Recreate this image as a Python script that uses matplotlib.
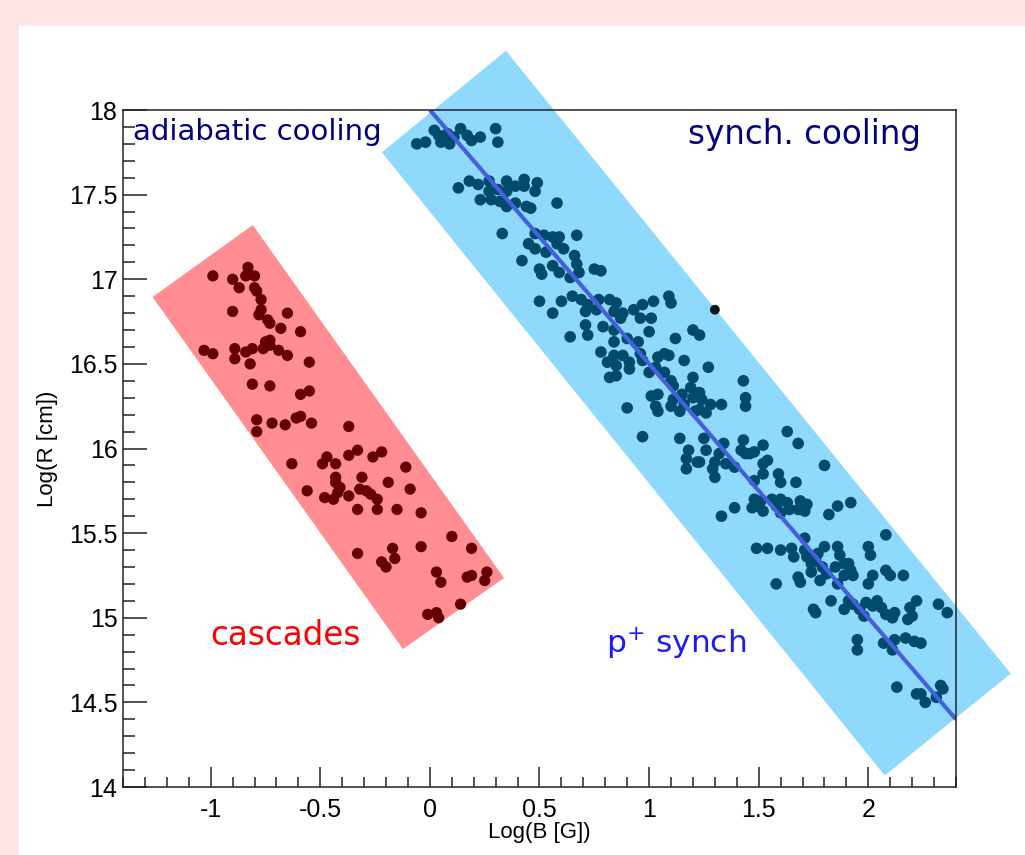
import matplotlib
matplotlib.use("Agg")
import matplotlib.pyplot as plt
from matplotlib.patches import Polygon, Rectangle
from matplotlib.ticker import MultipleLocator, FuncFormatter

plt.rcParams['axes.unicode_minus'] = False

# ---------------- data ----------------
cascade_points = [
    (-0.99, 17.02), (-0.90, 17.00), (-0.87, 16.95), (-0.83, 17.07), (-0.84, 17.02), (-0.80, 17.02),
    (-0.80, 16.95), (-0.79, 16.93), (-0.77, 16.88), (-0.90, 16.81), (-0.78, 16.79), (-0.77, 16.82),
    (-0.65, 16.80), (-0.74, 16.76), (-0.73, 16.74), (-0.68, 16.71), (-0.59, 16.69), (-1.03, 16.58),
    (-0.99, 16.56), (-0.89, 16.59), (-0.89, 16.53), (-0.84, 16.57), (-0.81, 16.59), (-0.82, 16.50),
    (-0.76, 16.59), (-0.75, 16.63), (-0.73, 16.64), (-0.73, 16.61), (-0.69, 16.58), (-0.65, 16.55),
    (-0.55, 16.51), (-0.81, 16.38), (-0.73, 16.37), (-0.59, 16.32), (-0.55, 16.34), (-0.79, 16.17),
    (-0.79, 16.10), (-0.72, 16.15), (-0.66, 16.14), (-0.61, 16.18), (-0.59, 16.19), (-0.54, 16.15),
    (-0.63, 15.91), (-0.47, 15.95), (-0.49, 15.91), (-0.43, 15.91), (-0.43, 15.80), (-0.41, 15.77),
    (-0.56, 15.75), (-0.48, 15.71), (-0.44, 15.70), (-0.37, 16.13), (-0.37, 15.96), (-0.33, 15.99),
    (-0.26, 15.95), (-0.22, 15.98), (-0.11, 15.89), (-0.43, 15.83), (-0.31, 15.83), (-0.19, 15.80),
    (-0.42, 15.74), (-0.37, 15.72), (-0.32, 15.76), (-0.29, 15.75), (-0.27, 15.73), (-0.24, 15.70),
    (-0.09, 15.76), (-0.33, 15.64), (-0.24, 15.64), (-0.15, 15.64), (-0.04, 15.62), (0.10, 15.48),
    (0.19, 15.41), (-0.04, 15.42), (-0.17, 15.41), (-0.33, 15.38), (-0.22, 15.33), (-0.20, 15.30),
    (-0.16, 15.35), (0.03, 15.27), (0.05, 15.21), (0.17, 15.24), (0.19, 15.25), (0.26, 15.27),
    (0.25, 15.22), (0.14, 15.08), (-0.01, 15.02), (0.03, 15.03), (0.04, 15.00),
]

synch_points = [
    (-0.06, 17.80), (-0.02, 17.81), (0.02, 17.88), (0.04, 17.85), (0.05, 17.81), (0.08, 17.86),
    (0.09, 17.80), (0.11, 17.84), (0.14, 17.89), (0.17, 17.85), (0.19, 17.82), (0.23, 17.84),
    (0.30, 17.89), (0.31, 17.81),
    (0.13, 17.54), (0.18, 17.58), (0.22, 17.56), (0.23, 17.47), (0.27, 17.58), (0.27, 17.52),
    (0.28, 17.47), (0.31, 17.53), (0.32, 17.46), (0.35, 17.58), (0.35, 17.52), (0.35, 17.43),
    (0.39, 17.55), (0.39, 17.45), (0.43, 17.59), (0.43, 17.55), (0.44, 17.43), (0.46, 17.42),
    (0.49, 17.57), (0.48, 17.52), (0.58, 17.45),
    (0.33, 17.27), (0.48, 17.27), (0.52, 17.26), (0.56, 17.25), (0.59, 17.25), (0.67, 17.26),
    (0.45, 17.21), (0.48, 17.18), (0.53, 17.16), (0.58, 17.21), (0.61, 17.18), (0.42, 17.11),
    (0.56, 17.08), (0.66, 17.14), (0.67, 17.09), (0.50, 17.06), (0.51, 17.03), (0.59, 17.04),
    (0.64, 17.01), (0.68, 17.04), (0.75, 17.06), (0.78, 17.05),
    (0.50, 16.87), (0.56, 16.80), (0.60, 16.87), (0.65, 16.90), (0.69, 16.88), (0.72, 16.85),
    (0.71, 16.81), (0.76, 16.82), (0.77, 16.88), (0.82, 16.88), (0.85, 16.86), (0.84, 16.81),
    (0.88, 16.80), (0.87, 16.77), (0.93, 16.82), (0.97, 16.85), (0.96, 16.77), (1.02, 16.87),
    (1.01, 16.77), (1.09, 16.90), (1.10, 16.86), (0.64, 16.66),
    (0.71, 16.73), (0.72, 16.67), (0.79, 16.72), (0.84, 16.70), (0.84, 16.63), (0.90, 16.65),
    (0.95, 16.63), (1.00, 16.69), (1.12, 16.65), (1.20, 16.70), (1.23, 16.67),
    (0.78, 16.57), (0.81, 16.51), (0.84, 16.55), (0.88, 16.55), (0.91, 16.51), (0.91, 16.47),
    (0.85, 16.49), (0.82, 16.42), (0.85, 16.43), (0.96, 16.56), (0.97, 16.52), (1.00, 16.45),
    (1.04, 16.54), (1.07, 16.56), (1.09, 16.55), (1.03, 16.48), (1.07, 16.45), (1.16, 16.52),
    (1.27, 16.48),
    (1.10, 16.40), (1.11, 16.37), (1.20, 16.42), (1.19, 16.36), (1.01, 16.31), (1.04, 16.32),
    (1.03, 16.25), (1.04, 16.22), (1.11, 16.29), (1.10, 16.25), (1.15, 16.32), (1.16, 16.26),
    (1.20, 16.30), (1.23, 16.33), (1.24, 16.29), (1.23, 16.23), (1.28, 16.26), (1.33, 16.26),
    (1.44, 16.30), (1.44, 16.25), (1.43, 16.40), (0.90, 16.24), (1.14, 16.22), (1.21, 16.22),
    (1.26, 16.21),
    (0.97, 16.07), (1.14, 16.06), (1.18, 15.99), (1.17, 15.94), (1.22, 15.92), (1.17, 15.88),
    (1.25, 16.06), (1.26, 15.99), (1.23, 15.92), (1.30, 15.92), (1.32, 15.97), (1.34, 16.03),
    (1.29, 15.88), (1.30, 15.83), (1.35, 15.91), (1.39, 15.89), (1.42, 15.99), (1.43, 16.05),
    (1.44, 15.97), (1.46, 15.97), (1.48, 15.98), (1.48, 15.81), (1.52, 16.02), (1.52, 15.91),
    (1.54, 15.93), (1.52, 15.85), (1.59, 15.85), (1.60, 15.80), (1.67, 15.80), (1.63, 16.10),
    (1.68, 16.03), (1.80, 15.90),
    (1.48, 15.70), (1.47, 15.65), (1.49, 15.66), (1.51, 15.69), (1.52, 15.63), (1.56, 15.70),
    (1.58, 15.66), (1.60, 15.70), (1.60, 15.62), (1.63, 15.68), (1.64, 15.64), (1.69, 15.69),
    (1.68, 15.64), (1.72, 15.67), (1.71, 15.63), (1.33, 15.60), (1.39, 15.65), (1.82, 15.61),
    (1.86, 15.66), (1.92, 15.68), (2.08, 15.49), (1.71, 15.47),
    (1.49, 15.41), (1.54, 15.41), (1.60, 15.40), (1.65, 15.41), (1.66, 15.36), (1.71, 15.40),
    (1.72, 15.36), (1.74, 15.32), (1.74, 15.27), (1.77, 15.38), (1.76, 15.34), (1.79, 15.30),
    (1.80, 15.42), (1.81, 15.26), (1.78, 15.22), (1.68, 15.24), (1.69, 15.21), (1.58, 15.20),
    (1.86, 15.42), (1.87, 15.37), (1.89, 15.32), (1.85, 15.30), (1.91, 15.32), (1.93, 15.25),
    (1.92, 15.28), (1.89, 15.25), (1.86, 15.20), (2.00, 15.42), (2.01, 15.37), (2.02, 15.25),
    (2.00, 15.20), (2.08, 15.28), (2.10, 15.25), (2.16, 15.25),
    (1.83, 15.10), (1.75, 15.05), (1.76, 15.03), (1.89, 15.05), (1.91, 15.10), (1.93, 15.08),
    (1.96, 15.05), (1.98, 15.01), (1.99, 15.09), (2.02, 15.07), (2.04, 15.10), (2.06, 15.06),
    (2.08, 15.02), (2.11, 15.00), (2.12, 15.03), (2.19, 15.06), (2.22, 15.10), (2.20, 15.01),
    (2.18, 14.99), (2.32, 15.08), (2.36, 15.03),
    (1.95, 14.87), (1.95, 14.81), (2.07, 14.85), (2.12, 14.87), (2.11, 14.81), (2.17, 14.88),
    (2.21, 14.86), (2.24, 14.85), (2.13, 14.59), (2.22, 14.55), (2.24, 14.55), (2.26, 14.50),
    (2.31, 14.53), (2.33, 14.60), (2.34, 14.58),
]

outlier_point = [(1.30, 16.82)]

# regions (data coordinates)
cascade_region = [(-1.265, 16.895), (-0.808, 17.32), (0.338, 15.235), (-0.123, 14.815)]
synch_region = [(-0.219, 17.75), (0.347, 18.35), (2.65, 14.67), (2.075, 14.068)]

# fitted line y = 18 - 1.5 x
line_x = [0.0, 2.4]
line_y = [18.0, 14.4]

x_range = (-1.4, 2.4)
y_range = (14.0, 18.0)

# ---------------- figure ----------------
fig = plt.figure(figsize=(10.25, 8.55), dpi=100, facecolor='#fde5e5')
bg = Rectangle((19 / 1025, 0), 1 - 19 / 1025, (855 - 26) / 855,
               transform=fig.transFigure, facecolor='white', edgecolor='none')
bg.set_zorder(-10)
fig.add_artist(bg)

ax = fig.add_axes([123 / 1025, 68 / 855, (956 - 123) / 1025, (787 - 110) / 855])
ax.set_zorder(1)
ax.set_xlim(*x_range)
ax.set_ylim(*y_range)

ax.add_patch(Polygon(cascade_region, closed=True, facecolor='#ff8d92',
                     edgecolor='none', clip_on=False, zorder=1))
ax.add_patch(Polygon(synch_region, closed=True, facecolor='#8fd9fc',
                     edgecolor='none', clip_on=False, zorder=1))

cx = [p[0] for p in cascade_points]
cy = [p[1] for p in cascade_points]
sx = [p[0] for p in synch_points]
sy = [p[1] for p in synch_points]

ax.scatter(cx, cy, s=66, c='#650000', edgecolors='none', zorder=3)
ax.scatter(sx, sy, s=70, c='#004a6c', edgecolors='none', zorder=3)
ax.scatter([p[0] for p in outlier_point], [p[1] for p in outlier_point],
           s=50, c='#0b1620', edgecolors='none', zorder=3)

ax.plot(line_x, line_y, color='#4560dd', lw=3.0, zorder=4, solid_capstyle='butt')

# texts
tfont = 'DejaVu Sans'
ax.text(-1.356, 17.82, 'adiabatic cooling', color='#000080', fontsize=21,
        family=tfont, va='baseline', ha='left', zorder=5)
ax.text(1.178, 17.80, 'synch. cooling', color='#000080', fontsize=23.5,
        family=tfont, va='baseline', ha='left', zorder=5)
ax.text(-1.0, 14.84, 'cascades', color='#ff0000', fontsize=23.5,
        family=tfont, va='baseline', ha='left', zorder=5)
ax.text(0.804, 14.79, 'p$^{+}$ synch', color='#1a1aff', fontsize=22.5,
        family=tfont, va='baseline', ha='left', zorder=5)

# axes styling (ROOT-like)
for sp in ax.spines.values():
    sp.set_linewidth(1.1)
    sp.set_color('#222222')
    sp.set_zorder(6)

ax.xaxis.set_major_locator(MultipleLocator(0.5))
ax.xaxis.set_minor_locator(MultipleLocator(0.1))
ax.yaxis.set_major_locator(MultipleLocator(0.5))
ax.yaxis.set_minor_locator(MultipleLocator(0.1))
fmt = FuncFormatter(lambda v, p: f'{v:g}')
ax.xaxis.set_major_formatter(fmt)
ax.yaxis.set_major_formatter(fmt)

ax.tick_params(axis='both', which='both', direction='in', top=False, right=False,
               width=1.1, color='#222222')
ax.tick_params(axis='x', which='major', length=14.5, pad=8)
ax.tick_params(axis='x', which='minor', length=7.2)
ax.tick_params(axis='y', which='major', length=17, pad=4)
ax.tick_params(axis='y', which='minor', length=8.6)
for lab in ax.get_xticklabels() + ax.get_yticklabels():
    lab.set_fontfamily('Liberation Sans')
    lab.set_fontsize(18)

ax.set_xlabel('Log(B [G])', fontsize=16, family='Liberation Sans', labelpad=0)
ax.set_ylabel('Log(R [cm])', fontsize=16, family='Liberation Sans', labelpad=8)

fig.savefig('out.png', dpi=100, facecolor=fig.get_facecolor())
